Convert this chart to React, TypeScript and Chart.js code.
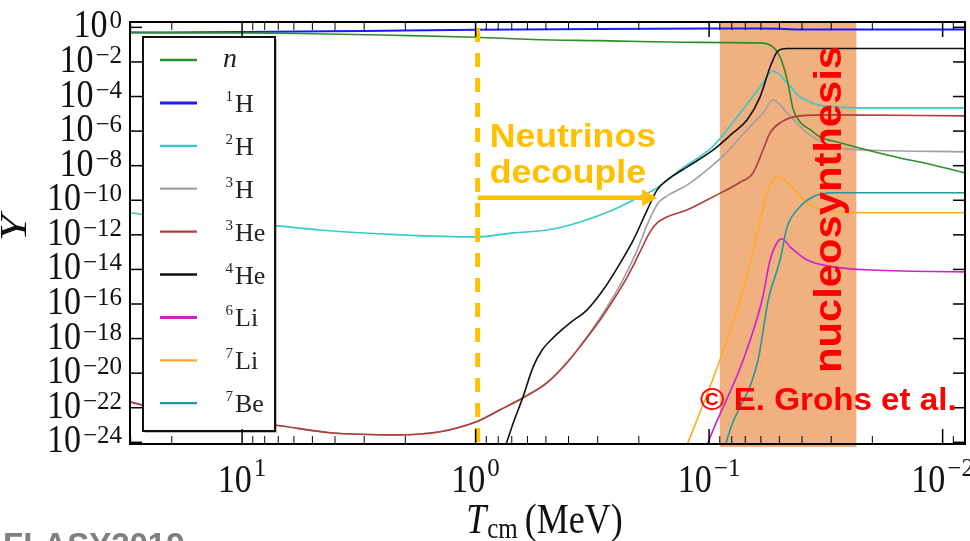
import React, { useEffect, useRef } from 'react';
import { Chart, registerables } from 'chart.js';

Chart.register(...registerables);

// ---- axis ranges (T in MeV, reversed; Y abundance) ----
const tMin = 0.00802;
const tMax = 30.2;
const yMin = 8.3e-25;
const yMax = 2.04;

const yTickExponents = [0, -2, -4, -6, -8, -10, -12, -14, -16, -18, -20, -22, -24];
const xTickExponents = [1, 0, -1, -2];

// ---- species ----
const speciesSymbol = ['n', 'H', 'H', 'H', 'He', 'He', 'Li', 'Li', 'Be'];
const speciesMass = ['', '1', '2', '3', '3', '4', '6', '7', '7'];
const speciesColor = ['#2a8f2a', '#1a1aff', '#33cccc', '#a0a0a0', '#b23c3c', '#111111', '#cc22cc', '#ffaa22', '#229999'];
const speciesOrder = [2, 8, 3, 4, 1, 0, 6, 7, 5];

// ---- series (T [MeV], Y) ----
const nT = [30.2, 10, 5.65, 2.3, 1.0, 0.57, 0.3, 0.11, 0.0622, 0.0548, 0.0497, 0.0463, 0.0436, 0.0408, 0.0369, 0.0335, 0.0275, 0.0211, 0.0152, 0.011, 0.008];
const nY = [0.5, 0.47, 0.44, 0.35, 0.27, 0.2, 0.17, 0.135, 0.126, 0.095, 0.0195, 9.1e-4, 1.7e-5, 3.4e-6, 1.2e-6, 4.6e-7, 2.1e-7, 8.1e-8, 2.8e-8, 1.1e-8, 3.8e-9];

const h1T = [30.2, 10, 3, 1, 0.3, 0.1, 0.06, 0.05, 0.045, 0.04, 0.008];
const h1Y = [0.5, 0.53, 0.62, 0.72, 0.8, 0.85, 0.86, 0.84, 0.78, 0.75, 0.75];

const h2T = [30.2, 15.1, 7.08, 4.64, 2.1, 0.99, 0.69, 0.494, 0.356, 0.257, 0.198, 0.167, 0.133, 0.097, 0.0736, 0.0605, 0.0532, 0.0463, 0.0408, 0.0294, 0.0204, 0.008];
const h2Y = [1.9e-11, 6.5e-12, 3.3e-12, 1.9e-12, 1.0e-12, 7.6e-13, 1.3e-12, 1.9e-12, 5.6e-12, 2.8e-11, 1.6e-10, 5.2e-10, 5.8e-9, 1.2e-7, 1.1e-5, 3.5e-4, 3.0e-3, 6.2e-4, 9.5e-5, 2.5e-5, 2.2e-5, 2.2e-5];

const h3T = [30.2, 15.1, 7.36, 4.2, 2.17, 1.42, 1.0, 0.785, 0.626, 0.494, 0.367, 0.293, 0.240, 0.205, 0.182, 0.165, 0.151, 0.124, 0.102, 0.0853, 0.0687, 0.0588, 0.0532, 0.0463, 0.038, 0.0294, 0.0211, 0.008];
const h3Y = [2.2e-22, 2.0e-23, 1.0e-23, 3.6e-24, 2.7e-24, 4.1e-24, 1.5e-23, 7.6e-23, 3.8e-22, 2.8e-21, 2.2e-19, 1.6e-17, 1.3e-15, 1.0e-13, 5.6e-12, 7.1e-11, 1.8e-10, 7.8e-10, 5.8e-9, 4.8e-8, 1.2e-6, 1.1e-5, 6.3e-5, 1.1e-5, 7.9e-7, 1.2e-7, 8.1e-8, 6.3e-8];

const he3T = [30.2, 15.1, 7.36, 4.2, 2.17, 1.42, 1.0, 0.785, 0.626, 0.494, 0.406, 0.347, 0.293, 0.257, 0.224, 0.198, 0.179, 0.167, 0.151, 0.124, 0.096, 0.0736, 0.0649, 0.0588, 0.0548, 0.0497, 0.0408, 0.0294, 0.008];
const he3Y = [2.2e-22, 2.0e-23, 1.0e-23, 3.6e-24, 2.7e-24, 4.1e-24, 1.5e-23, 7.6e-23, 3.8e-22, 2.8e-21, 4.0e-20, 5.7e-19, 1.2e-17, 1.7e-16, 3.7e-15, 1.0e-13, 1.5e-12, 4.9e-12, 1.1e-11, 2.8e-11, 1.6e-10, 1.1e-9, 3.8e-9, 8.1e-8, 7.9e-7, 3.0e-6, 7.6e-6, 8.7e-6, 7.6e-6];

const he4T = [0.76, 0.74, 0.69, 0.626, 0.567, 0.519, 0.466, 0.394, 0.333, 0.284, 0.240, 0.211, 0.184, 0.167, 0.151, 0.124, 0.096, 0.079, 0.0687, 0.0605, 0.0548, 0.0512, 0.0487, 0.0463, 0.008];
const he4Y = [3.7e-25, 8.3e-25, 1.3e-23, 4.4e-22, 2.3e-20, 2.2e-19, 1.1e-18, 8.1e-18, 4.6e-17, 6.6e-16, 2.4e-14, 5.1e-13, 2.8e-11, 4.0e-10, 1.5e-9, 8.5e-9, 8.1e-8, 7.9e-7, 4.5e-6, 9.5e-5, 5.1e-3, 0.038, 0.056, 0.06, 0.06];

const li6T = [0.104, 0.096, 0.0714, 0.0593, 0.0548, 0.0512, 0.0487, 0.045, 0.038, 0.0294, 0.0213, 0.008];
const li6Y = [3.7e-25, 5.4e-24, 5.9e-20, 1.7e-16, 3.5e-14, 3.5e-13, 5.9e-13, 2.0e-13, 3.5e-14, 1.4e-14, 9.5e-15, 7.2e-15];

const li7T = [0.127, 0.117, 0.0898, 0.0736, 0.0622, 0.0565, 0.0512, 0.0464, 0.038, 0.0294, 0.0213, 0.008];
const li7Y = [3.7e-25, 5.4e-24, 5.9e-20, 1.7e-16, 1.3e-12, 2.7e-10, 2.2e-9, 1.1e-9, 7.1e-11, 2.1e-11, 1.9e-11, 1.9e-11];

const be7T = [0.0863, 0.0813, 0.0617, 0.0558, 0.0497, 0.0463, 0.0408, 0.0359, 0.0294, 0.0211, 0.008];
const be7Y = [3.7e-25, 5.4e-24, 5.9e-20, 1.7e-16, 3.5e-14, 2.9e-12, 4.2e-11, 1.6e-10, 2.7e-10, 2.7e-10, 2.7e-10];

const seriesT = [nT, h1T, h2T, h3T, he3T, he4T, li6T, li7T, be7T];
const seriesY = [nY, h1Y, h2Y, h3Y, he3Y, he4Y, li6Y, li7Y, be7Y];

// ---- annotations ----
const decouplingT = 0.98;
const arrowEndT = 0.167;
const arrowY = 1.4e-10;
const bbnStartT = 0.09;
const bbnEndT = 0.0234;

const SERIF = '"Liberation Serif", "DejaVu Serif", serif';
const SANS = '"Liberation Sans", Arial, sans-serif';
const YELLOW = '#FFC000';
const BAND = 'rgb(240,176,128)';

function textW(ctx: CanvasRenderingContext2D, text: string, font: string) {
  ctx.font = font;
  return ctx.measureText(text).width;
}

function fillStretched(ctx: CanvasRenderingContext2D, text: string, x: number, y: number, font: string, sx: number, sy: number, color: string, align: CanvasTextAlign = 'left') {
  ctx.save();
  ctx.font = font;
  ctx.fillStyle = color;
  ctx.textAlign = align;
  ctx.textBaseline = 'alphabetic';
  ctx.translate(x, y);
  ctx.scale(sx, sy);
  ctx.fillText(text, 0, 0);
  ctx.restore();
}

function powerParts(e: number) {
  return { base: '10', sup: e < 0 ? '\u2212' + Math.abs(e) : String(e) };
}

function line(ctx: CanvasRenderingContext2D, x1: number, y1: number, x2: number, y2: number) {
  ctx.beginPath();
  ctx.moveTo(x1, y1);
  ctx.lineTo(x2, y2);
  ctx.stroke();
}

const overlayPlugin = {
  id: 'bbnOverlay',
  beforeDatasetsDraw(chart: any) {
    const { ctx, chartArea: a, scales } = chart;
    const x1 = scales.x.getPixelForValue(bbnStartT);
    const x2 = scales.x.getPixelForValue(bbnEndT);
    ctx.save();
    ctx.fillStyle = BAND;
    ctx.fillRect(x1, a.top, x2 - x1, a.bottom - a.top + 3);
    ctx.restore();
  },
  afterDatasetsDraw(chart: any) {
    const { ctx, chartArea: a, scales } = chart;
    const xs = scales.x;
    const ys = scales.y;
    ctx.save();

    // yellow dashed decoupling line
    const xd = xs.getPixelForValue(decouplingT);
    ctx.strokeStyle = YELLOW;
    ctx.lineWidth = 5;
    ctx.setLineDash([14, 11]);
    line(ctx, xd, a.top + 6, xd, a.bottom);
    ctx.setLineDash([]);

    // arrow
    const ya = ys.getPixelForValue(arrowY);
    const xe = xs.getPixelForValue(arrowEndT);
    ctx.lineWidth = 4.5;
    line(ctx, xd, ya, xe - 14, ya);
    ctx.fillStyle = YELLOW;
    ctx.beginPath();
    ctx.moveTo(xe, ya);
    ctx.lineTo(xe - 15, ya - 8.5);
    ctx.lineTo(xe - 15, ya + 8.5);
    ctx.closePath();
    ctx.fill();

    // "Neutrinos decouple"
    fillStretched(ctx, 'Neutrinos', xd + 12, ya - 51, `bold 33px ${SANS}`, 1.08, 1, YELLOW);
    fillStretched(ctx, 'decouple', xd + 12, ya - 15, `bold 33px ${SANS}`, 1.08, 1, YELLOW);

    // legend
    const lx = 143, ly = 37, lw = 132, lh = 394;
    ctx.fillStyle = 'rgba(0,0,0,0.25)';
    ctx.fillRect(lx + 2, ly + 2, lw, lh);
    ctx.fillStyle = '#ffffff';
    ctx.fillRect(lx, ly, lw, lh);
    ctx.strokeStyle = '#111';
    ctx.lineWidth = 2;
    ctx.strokeRect(lx, ly, lw, lh);
    for (let i = 0; i < speciesSymbol.length; i++) {
      const ry = ly + 23 + i * 42.9;
      ctx.strokeStyle = speciesColor[i];
      ctx.lineWidth = i === 1 || i === 6 ? 3 : 2.3;
      line(ctx, lx + 17, ry, lx + 54, ry);
      if (speciesMass[i] === '') {
        fillStretched(ctx, speciesSymbol[i], lx + 80, ry + 7, `italic 28px ${SERIF}`, 1, 1, '#222');
      } else {
        fillStretched(ctx, speciesMass[i], lx + 90, ry - 2, `15px ${SERIF}`, 1, 1, '#222', 'right');
        fillStretched(ctx, speciesSymbol[i], lx + 92, ry + 9, `26px ${SERIF}`, 1, 1, '#222');
      }
    }

    // frame
    ctx.strokeStyle = '#000';
    ctx.lineWidth = 2;
    ctx.strokeRect(a.left, a.top, a.right - a.left, a.bottom - a.top);

    // x ticks (bottom and top)
    for (let d = -3; d <= 1; d++) {
      for (let m = 1; m <= 9; m++) {
        const v = m * Math.pow(10, d);
        if (v < tMin || v > tMax) continue;
        const px = xs.getPixelForValue(v);
        const len = m === 1 ? 15 : 8;
        ctx.lineWidth = m === 1 ? 1.5 : 1;
        line(ctx, px, a.bottom, px, a.bottom - len);
        line(ctx, px, a.top, px, a.top + len);
      }
    }
    // y ticks (left and right)
    ctx.lineWidth = 1.5;
    for (const e of yTickExponents) {
      const py = ys.getPixelForValue(Math.pow(10, e));
      line(ctx, a.left, py, a.left + 12, py);
      line(ctx, a.right - 12, py, a.right, py);
    }

    // tick labels
    const baseFont = `34px ${SERIF}`;
    const supFont = `25px ${SERIF}`;
    for (const e of yTickExponents) {
      const py = ys.getPixelForValue(Math.pow(10, e));
      const { base, sup } = powerParts(e);
      const wb = textW(ctx, base, baseFont);
      const ws = textW(ctx, sup, supFont);
      const x0 = a.left - 8 - ws - 2 - wb;
      fillStretched(ctx, base, x0, py + 10, baseFont, 1, 1.17, '#111');
      fillStretched(ctx, sup, x0 + wb + 2, py + 1, supFont, 1, 1, '#111');
    }
    for (const e of xTickExponents) {
      const px = xs.getPixelForValue(Math.pow(10, e));
      const { base, sup } = powerParts(e);
      const wb = textW(ctx, base, baseFont);
      const ws = textW(ctx, sup, supFont);
      const x0 = px - (wb + 2 + ws) / 2;
      fillStretched(ctx, base, x0, a.bottom + 48, baseFont, 1, 1.17, '#111');
      fillStretched(ctx, sup, x0 + wb + 2, a.bottom + 32, supFont, 1, 1, '#111');
    }

    // axis titles
    const tFont = `italic 36px ${SERIF}`;
    const cmFont = `25px ${SERIF}`;
    const mevFont = `36px ${SERIF}`;
    const wT = textW(ctx, 'T', tFont);
    const wCm = textW(ctx, 'cm', cmFont);
    const wMev = textW(ctx, '(MeV)', mevFont);
    const total = wT + 1 + wCm + 7 + wMev;
    const cx = (a.left + a.right) / 2 - 3;
    const sx0 = cx - total / 2;
    fillStretched(ctx, 'T', sx0, a.bottom + 89, tFont, 1, 1.17, '#111');
    fillStretched(ctx, 'cm', sx0 + wT + 1, a.bottom + 94, cmFont, 1, 1.17, '#111');
    fillStretched(ctx, '(MeV)', sx0 + wT + 1 + wCm + 7, a.bottom + 89, mevFont, 1, 1.17, '#111');

    ctx.save();
    ctx.translate(26, (a.top + a.bottom) / 2 - 5);
    ctx.rotate(-Math.PI / 2);
    ctx.scale(1.25, 1);
    ctx.font = `italic 38px ${SERIF}`;
    ctx.fillStyle = '#111';
    ctx.textAlign = 'center';
    ctx.fillText('Y', 0, 0);
    ctx.restore();

    // nucleosynthesis label
    const xb2 = xs.getPixelForValue(bbnEndT);
    ctx.save();
    ctx.translate(xb2 - 15, a.bottom - 71);
    ctx.rotate(-Math.PI / 2);
    ctx.scale(1.07, 1);
    ctx.font = `bold 39px ${SANS}`;
    ctx.fillStyle = '#ff0000';
    ctx.textAlign = 'left';
    ctx.fillText('nucleosynthesis', 0, 0);
    ctx.restore();

    // credit
    fillStretched(ctx, '\u00A9 E. Grohs et al.', 700, 410, `bold 31px ${SANS}`, 1.07, 1, '#ff0000');

    // footer
    fillStretched(ctx, 'FLASY2019', 3, 556, `bold 33px ${SANS}`, 1, 1, '#808080');

    ctx.restore();
  },
};

export default function App() {
  const ref = useRef<HTMLCanvasElement>(null);
  useEffect(() => {
    const datasets = seriesT.map((ts, i) => ({
      label: (speciesMass[i] ? speciesMass[i] : '') + speciesSymbol[i],
      data: ts.map((t, j) => ({ x: t, y: seriesY[i][j] })),
      borderColor: speciesColor[i],
      backgroundColor: speciesColor[i],
      borderWidth: i === 1 ? 2 : 1.6,
      pointRadius: 0,
      fill: false,
      cubicInterpolationMode: 'monotone' as const,
      order: speciesOrder[i],
    }));
    const chart = new Chart(ref.current as HTMLCanvasElement, {
      type: 'line',
      data: { datasets },
      options: {
        responsive: false,
        devicePixelRatio: 1,
        animation: false,
        layout: { padding: { left: 130, top: 22, right: 5, bottom: 97 } },
        plugins: { legend: { display: false }, tooltip: { enabled: false }, title: { display: false } },
        events: [],
        scales: {
          x: { type: 'logarithmic', reverse: true, min: tMin, max: tMax, display: false },
          y: { type: 'logarithmic', min: yMin, max: yMax, display: false },
        },
      },
      plugins: [overlayPlugin],
    });
    return () => chart.destroy();
  }, []);
  return (
    <div style={{ position: 'absolute', left: 0, top: 0, width: 970, height: 541, background: '#ffffff' }}>
      <canvas ref={ref} width={970} height={541} style={{ display: 'block' }} />
    </div>
  );
}
